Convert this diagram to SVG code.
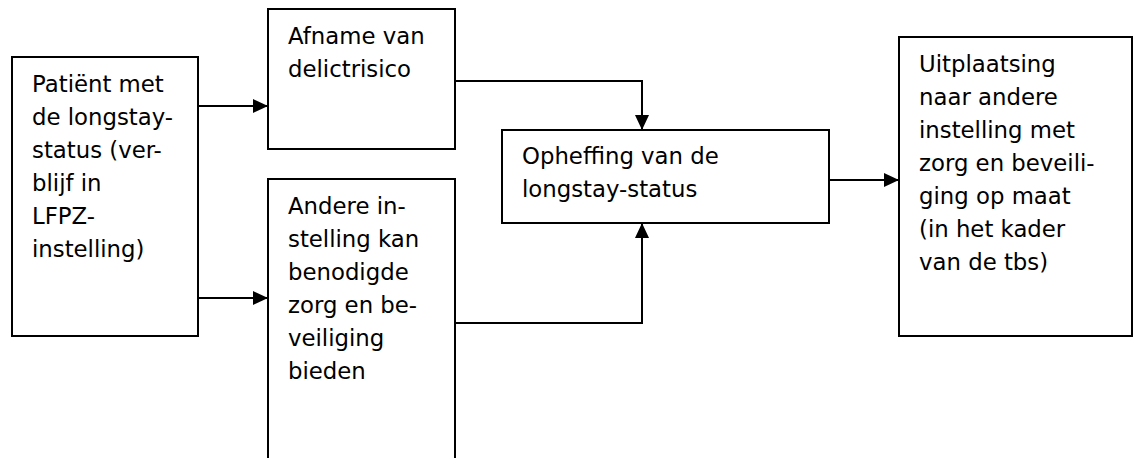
<svg xmlns="http://www.w3.org/2000/svg" width="1136" height="458" viewBox="0 0 1136 458">
<style>
.box{fill:#fff;stroke:#000;stroke-width:2}
.t{font-family:"DejaVu Sans",Verdana,sans-serif;font-size:22.8px;fill:#000}
.c{fill:none;stroke:#000;stroke-width:2}
</style>
<defs>
<marker id="ah" markerUnits="userSpaceOnUse" markerWidth="16" markerHeight="14" refX="15" refY="7" orient="auto">
<path d="M0,0 L15,7 L0,14 Z" fill="#000"/>
</marker>
</defs>
<rect width="1136" height="458" fill="#fff"/>
<g id="connectors">
<path class="c" d="M198,106 H268" marker-end="url(#ah)"/>
<path class="c" d="M198,298 H268" marker-end="url(#ah)"/>
<path class="c" d="M455,81 H642 V130" marker-end="url(#ah)"/>
<path class="c" d="M455,323 H642 V223" marker-end="url(#ah)"/>
<path class="c" d="M829,180 H899" marker-end="url(#ah)"/>
</g>
<g id="n1">
<rect class="box" x="12" y="57" width="186" height="279"/>
<text class="t" x="32" y="92">Patiënt met</text>
<text class="t" x="32" y="125">de longstay-</text>
<text class="t" x="32" y="158">status (ver-</text>
<text class="t" x="32" y="191">blijf in</text>
<text class="t" x="32" y="224">LFPZ-</text>
<text class="t" x="32" y="257">instelling)</text>
</g>
<g id="n2">
<rect class="box" x="268" y="9" width="187" height="140"/>
<text class="t" x="288" y="44">Afname van</text>
<text class="t" x="288" y="77">delictrisico</text>
</g>
<g id="n3">
<rect class="box" x="268" y="179" width="187" height="300"/>
<text class="t" x="288" y="214">Andere in-</text>
<text class="t" x="288" y="247">stelling kan</text>
<text class="t" x="288" y="280">benodigde</text>
<text class="t" x="288" y="313">zorg en be-</text>
<text class="t" x="288" y="346">veiliging</text>
<text class="t" x="288" y="379">bieden</text>
</g>
<g id="n4">
<rect class="box" x="502" y="130" width="327" height="93"/>
<text class="t" x="522" y="164">Opheffing van de</text>
<text class="t" x="522" y="197">longstay-status</text>
</g>
<g id="n5">
<rect class="box" x="899" y="37" width="233" height="299"/>
<text class="t" x="919" y="72">Uitplaatsing</text>
<text class="t" x="919" y="105">naar andere</text>
<text class="t" x="919" y="138">instelling met</text>
<text class="t" x="919" y="171">zorg en beveili-</text>
<text class="t" x="919" y="204">ging op maat</text>
<text class="t" x="919" y="237">(in het kader</text>
<text class="t" x="919" y="270">van de tbs)</text>
</g>
</svg>
